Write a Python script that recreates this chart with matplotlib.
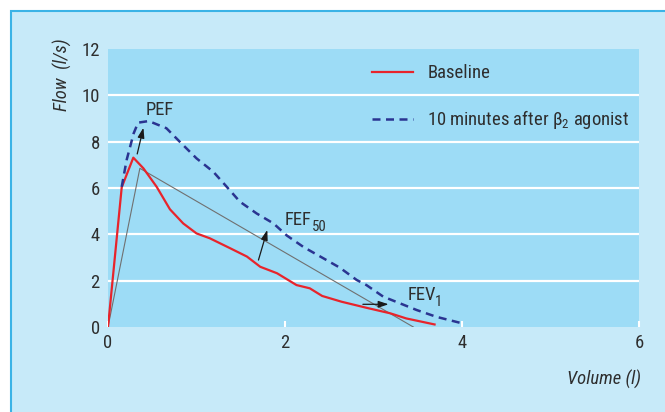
import matplotlib
matplotlib.use("Agg")
import matplotlib.pyplot as plt
from matplotlib.patches import Rectangle

# ---- data ----
baseline_vol = [0.0, 0.155, 0.286, 0.40, 0.55, 0.70, 0.85, 1.00, 1.15, 1.38, 1.57, 1.72,
                1.91, 2.13, 2.28, 2.42, 2.64, 2.92, 3.19, 3.37, 3.69]
baseline_flow = [0.0, 6.03, 7.31, 6.85, 6.05, 5.08, 4.47, 4.04, 3.83, 3.40, 3.04, 2.60,
                 2.32, 1.81, 1.67, 1.34, 1.09, 0.83, 0.59, 0.37, 0.11]

agonist_vol = [0.155, 0.21, 0.29, 0.34, 0.46, 0.66, 0.81, 1.00, 1.19, 1.34, 1.49, 1.68,
               1.87, 2.02, 2.21, 2.45, 2.62, 2.81, 2.92, 3.11, 3.30, 3.49, 3.71, 4.00]
agonist_flow = [6.05, 7.2, 8.36, 8.82, 8.89, 8.58, 8.0, 7.28, 6.7, 6.06, 5.41, 4.9,
                4.47, 3.95, 3.45, 2.93, 2.56, 2.03, 1.81, 1.31, 1.02, 0.73, 0.44, 0.16]

guide_vol = [0.0, 0.36, 3.45]
guide_flow = [0.0, 6.85, 0.0]

# arrows: (tail_x, tail_y, head_x, head_y)
arrow_pef = (0.33, 7.47, 0.40, 8.6)
arrow_fef = (1.70, 2.89, 1.80, 4.19)
arrow_fev = (2.88, 0.98, 3.17, 0.98)

# annotation labels: (main, subscript, x, y)
labels = [('PEF', '', 0.43, 9.35), ('FEF', '50', 2.0, 4.6), ('FEV', '1', 3.38, 1.4)]

x_ticks = [0, 2, 4, 6]
y_ticks = [0, 2, 4, 6, 8, 10, 12]

# ---- style ----
FONT = ['Roboto Condensed', 'DejaVu Sans']
plt.rcParams['font.family'] = FONT
plt.rcParams['mathtext.fontset'] = 'custom'
plt.rcParams['mathtext.rm'] = 'Roboto Condensed'
plt.rcParams['mathtext.it'] = 'Roboto Condensed:italic'
TXT = '#2e2e2e'
OUTER = '#c7eaf9'
INNER = '#9ddcf6'
FRAME = '#3bb3e6'
RED = '#e8242b'
NAVY = '#2a3491'
FS = 13.4

W, H = 665, 412
fig = plt.figure(figsize=(W / 100, H / 100), dpi=100, facecolor='white')
fig.patches.append(Rectangle((11 / W, -0.1), 1.2, 1 - 11 / H + 0.1, transform=fig.transFigure,
                             facecolor=OUTER, edgecolor=FRAME, linewidth=1.5, zorder=-5))

ax = fig.add_axes([108 / W, 1 - 327 / H, (639 - 108) / W, (327 - 49) / H])
ax.set_facecolor(INNER)
for s in ax.spines.values():
    s.set_visible(False)
ax.set_xlim(0, 6)
ax.set_ylim(0, 12)
for yv in y_ticks[1:-1]:
    ax.axhline(yv, color='white', linewidth=1.6, zorder=1)

ax.set_xticks(x_ticks)
ax.set_yticks(y_ticks)
ax.tick_params(axis='x', direction='in', length=4, width=1.5, color='white', pad=5,
               labelsize=FS, labelcolor=TXT)
ax.tick_params(axis='y', length=0, pad=6, labelsize=FS, labelcolor=TXT)

ax.plot(guide_vol, guide_flow, color='#707070', linewidth=0.8, zorder=2)
ax.plot(baseline_vol, baseline_flow, color=RED, linewidth=1.6, zorder=3, label='Baseline')
ax.plot(agonist_vol, agonist_flow, color=NAVY, linewidth=1.8, linestyle=(0, (3.2, 2.2)),
        zorder=3, label='10 minutes after β$_2$ agonist')

for tx, ty, hx, hy in (arrow_pef, arrow_fef, arrow_fev):
    ax.annotate('', xy=(hx, hy), xytext=(tx, ty),
                arrowprops=dict(arrowstyle='-|>,head_length=0.6,head_width=0.2',
                                color='#1a1a1a', linewidth=0.9, shrinkA=0, shrinkB=0),
                zorder=4)

fig.canvas.draw()
renderer = fig.canvas.get_renderer()
for main, sub, x, y in labels:
    t = ax.text(x, y, main, fontsize=FS, color=TXT, va='center', ha='left')
    if sub:
        bb = t.get_window_extent(renderer)
        w_pts = bb.width * 72 / fig.dpi
        ax.annotate(sub, xy=(x, y), xytext=(w_pts - 0.2, -5), textcoords='offset points',
                    fontsize=FS * 0.8, color=TXT, va='center', ha='left')

leg = ax.legend(loc='upper left', bbox_to_anchor=(0.484, 0.972), frameon=False,
                fontsize=FS, handlelength=2.2, handletextpad=0.75, labelspacing=1.4,
                borderaxespad=0)
for t in leg.get_texts():
    t.set_color(TXT)

fig.text(62 / W, 1 - 75 / H, 'Flow  (l/s)', rotation=90, style='italic', fontsize=FS,
         color=TXT, ha='center', va='center')
fig.text(641 / W, 1 - 379 / H, 'Volume (l)', style='italic', fontsize=FS,
         color=TXT, ha='right', va='center')

fig.savefig('out.png', dpi=100, facecolor=fig.get_facecolor())
